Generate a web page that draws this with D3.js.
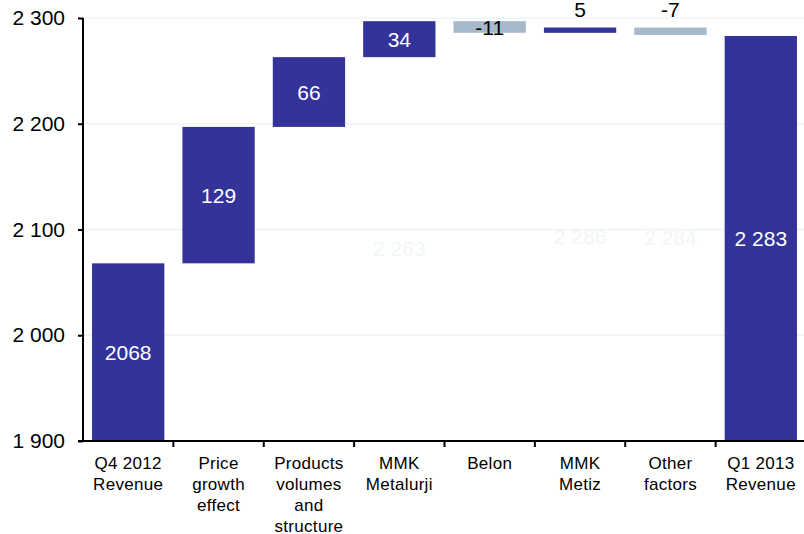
<!DOCTYPE html>
<html>
<head>
<meta charset="utf-8">
<script src="https://cdn.jsdelivr.net/npm/d3@7"></script>
<style>
  html, body { margin: 0; padding: 0; background: #fff; }
  svg { display: block; font-family: "Liberation Sans", Arial, sans-serif; }
</style>
</head>
<body>
<svg id="chart" width="804" height="534"></svg>
<script>
// Revenue bridge, Q4 2012 -> Q1 2013 (RUB mln)
const categories = [
  "Q4 2012\nRevenue",
  "Price\ngrowth\neffect",
  "Products\nvolumes\nand\nstructure",
  "MMK\nMetalurji",
  "Belon",
  "MMK\nMetiz",
  "Other\nfactors",
  "Q1 2013\nRevenue"
];
const values = [2068, 129, 66, 34, -11, 5, -7, 2283];
const isTotal = [true, false, false, false, false, false, false, true];
const groupedLabel = [false, false, false, false, false, false, false, true];
const baseLabelShown = [3, 5, 6];
const yTicks = [1900, 2000, 2100, 2200, 2300];
const yDomain = [1900, 2300];

const svg = d3.select("#chart");
const plotLeft = 83, plotRight = 806, plotTop = 18, plotBottom = 441;

const x = d3.scaleBand()
  .domain(categories)
  .range([plotLeft, plotRight])
  .paddingInner(0.2)
  .paddingOuter(0.1);

const y = d3.scaleLinear().domain(yDomain).range([plotBottom, plotTop]);

const locale = d3.formatLocale({ decimal: ".", thousands: " ", grouping: [3], currency: ["", ""], minus: "-" });
const spaced = locale.format(",d");
const plain = locale.format("d");

// Running totals for the bridge
let running = 0;
const bars = categories.map((c, i) => {
  const v = values[i];
  let lo, hi;
  if (isTotal[i]) {
    lo = yDomain[0]; hi = v; running = v;
  } else {
    const start = running, end = running + v;
    lo = Math.min(start, end); hi = Math.max(start, end);
    running = end;
  }
  return { c, i, v, lo, hi, total: isTotal[i] };
});

// Faint gridlines
svg.append("g")
  .selectAll("line")
  .data(yTicks.filter(t => t > yDomain[0]))
  .join("line")
  .attr("x1", plotLeft).attr("x2", 804)
  .attr("y1", d => y(d)).attr("y2", d => y(d))
  .attr("stroke", "#eef4f4").attr("stroke-width", 1.5);

// Hidden base values (nearly invisible labels)
svg.append("g")
  .selectAll("text")
  .data(bars.filter(b => baseLabelShown.includes(b.i)))
  .join("text")
  .attr("x", b => x(b.c) + x.bandwidth() / 2)
  .attr("y", b => (y(b.lo) + y(yDomain[0])) / 2)
  .attr("dy", "0.35em")
  .attr("text-anchor", "middle")
  .attr("font-size", 21)
  .attr("fill", "#f1f6f6")
  .text(b => spaced(b.lo));

// Bars
svg.append("g")
  .selectAll("rect")
  .data(bars)
  .join("rect")
  .attr("x", b => x(b.c))
  .attr("width", x.bandwidth())
  .attr("y", b => y(b.hi))
  .attr("height", b => y(b.lo) - y(b.hi))
  .attr("fill", b => (b.total || b.v > 0) ? "#333399" : "#a6b8c9");

// Value labels
const small = b => !b.total && Math.abs(b.v) < 10;
svg.append("g")
  .selectAll("text")
  .data(bars)
  .join("text")
  .attr("x", b => x(b.c) + x.bandwidth() / 2)
  .attr("y", b => small(b) ? y(b.hi) - 11 : (y(b.hi) + y(b.lo)) / 2)
  .attr("dy", b => small(b) ? 0 : "0.36em")
  .attr("text-anchor", "middle")
  .attr("font-size", 21)
  .attr("fill", b => {
    if (small(b)) return "#000";
    return (b.total || b.v > 0) ? "#fff" : "#000";
  })
  .text(b => groupedLabel[b.i] ? spaced(b.v) : plain(b.v));

// Y axis
const yAxis = d3.axisLeft(y).tickValues(yTicks).tickSize(5).tickPadding(13).tickFormat(spaced);
const gy = svg.append("g").attr("transform", `translate(${plotLeft},0)`).call(yAxis);
gy.select(".domain").attr("stroke", "#000").attr("stroke-width", 2).attr("d", `M0,${plotTop}V${plotBottom}`);
gy.selectAll(".tick line").attr("stroke", "#000").attr("stroke-width", 2);
gy.selectAll(".tick text").attr("font-size", 21).attr("fill", "#000")
  .attr("font-family", "'Liberation Sans', Arial, sans-serif");

// X axis line with boundary ticks
const gx = svg.append("g");
gx.append("line")
  .attr("x1", plotLeft - 5).attr("x2", 804)
  .attr("y1", plotBottom).attr("y2", plotBottom)
  .attr("stroke", "#000").attr("stroke-width", 2);
const step = x.step();
const boundaries = categories.map(c => x(c) - x.paddingInner() * step / 2).slice(1);
gx.selectAll(".bt")
  .data(boundaries)
  .join("line")
  .attr("x1", d => d).attr("x2", d => d)
  .attr("y1", plotBottom).attr("y2", plotBottom + 6)
  .attr("stroke", "#000").attr("stroke-width", 2);

// Category labels
const catLabels = svg.append("g")
  .selectAll("text")
  .data(categories)
  .join("text")
  .attr("x", c => x(c) + x.bandwidth() / 2)
  .attr("y", 469)
  .attr("text-anchor", "middle")
  .attr("font-size", 17)
  .attr("letter-spacing", 0.3)
  .attr("fill", "#000");
catLabels.each(function(c) {
  const t = d3.select(this);
  c.split("\n").forEach((line, k) => {
    t.append("tspan")
      .attr("x", x(c) + x.bandwidth() / 2)
      .attr("dy", k === 0 ? 0 : 21)
      .text(line);
  });
});
</script>
</body>
</html>
